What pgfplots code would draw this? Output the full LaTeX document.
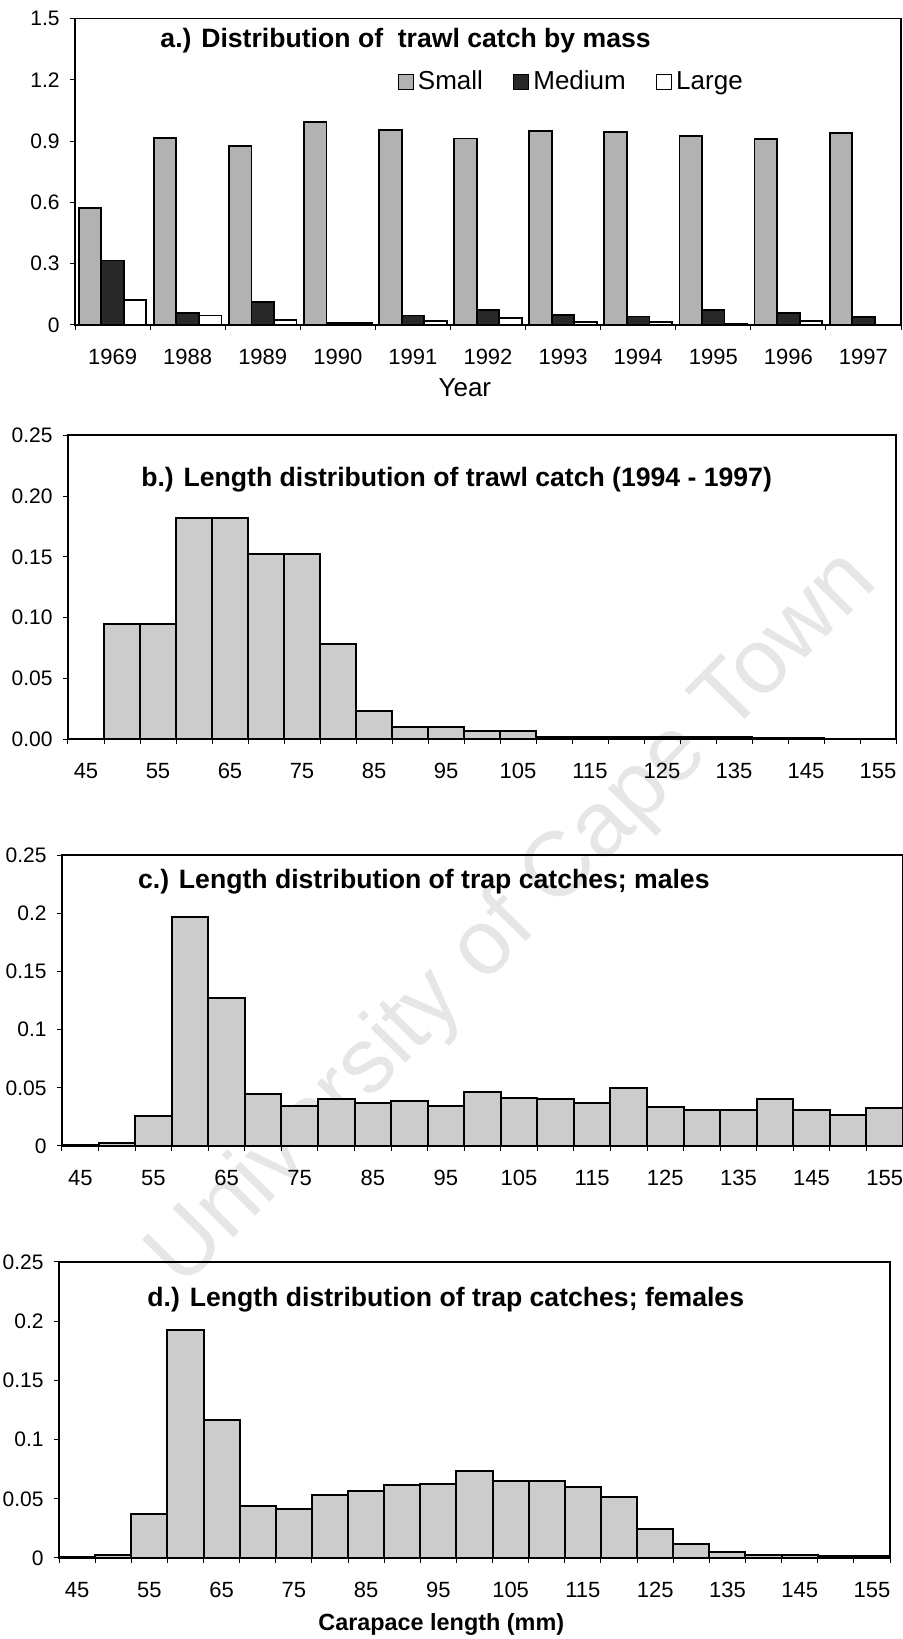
\documentclass[border=0pt]{standalone}
\usepackage{fontspec}
\setmainfont{Liberation Sans}
\usepackage{pgfplots}
\pgfplotsset{compat=1.18}
\definecolor{smallfill}{RGB}{178,178,178}
\definecolor{medfill}{RGB}{40,40,40}
\definecolor{histfill}{RGB}{204,204,204}
\definecolor{wmark}{RGB}{230,230,230}

\tikzset{ttl/.style={font=\fontsize{13.3}{15}\selectfont\bfseries, anchor=west, inner sep=0pt}}
\pgfplotsset{
  base/.style={
    scale only axis, clip=false, anchor=south west,
    axis line style={line width=0.8pt},
    tick align=outside,
    major tick length=0pt,
    minor tick length=2.5pt,
    tick style={line width=0.5pt, black},
    xtick pos=left, ytick pos=left,
    /pgf/number format/assume math mode=true,
    scaled y ticks=false,
    yticklabel style={font=\fontsize{10.5}{12}\selectfont, anchor=east, inner sep=0pt, xshift=-7.5pt},
    xticklabel style={font=\fontsize{11}{13}\selectfont, anchor=center, inner sep=0pt, yshift=-16pt},
    ymin=0,
  },
  hist/.style={base, ybar, bar width=5, xmin=42.5, xmax=157.5, ymax=0.25,
    xtick={45,55,65,75,85,95,105,115,125,135,145,155},
    xticklabels={45,55,65,75,85,95,105,115,125,135,145,155},
    minor xtick={42.5,47.5,...,157.5},
    ytick={0,0.05,0.1,0.15,0.2,0.25},
    minor ytick={0,0.05,0.1,0.15,0.2,0.25},
    yticklabels={0,0.05,0.1,0.15,0.2,0.25}},
  histbar/.style={fill=histfill, draw=black, line width=1pt},
}

\begin{document}
\begin{tikzpicture}
\path[use as bounding box] (0,0) rectangle (451.5pt,819.5pt);
\node[rotate=45.4, text=wmark, font=\fontsize{46}{50}\selectfont] at (257pt,359.5pt) {University of Cape Town};

% ---------------- panel a
\begin{axis}[base, at={(37.5pt,657pt)}, width=413pt, height=153.25pt,
  ybar=0pt, bar width=0.3,
  xmin=-0.5, xmax=10.5, ymax=1.5,
  xtick={0,1,2,3,4,5,6,7,8,9,10},
  xticklabels={1969,1988,1989,1990,1991,1992,1993,1994,1995,1996,1997},
  minor xtick={-0.5,0.5,...,10.5},
  ytick={0,0.3,0.6,0.9,1.2,1.5},
  minor ytick={0,0.3,0.6,0.9,1.2,1.5},
  yticklabels={0,0.3,0.6,0.9,1.2,1.5},
  every axis plot post/.append style={
    legend image code/.code={\draw[#1, line width=0.6pt] (0pt,-3.8pt) rectangle (7.6pt,3.8pt);}},
  legend style={draw=none, fill=none, inner sep=0pt, at={(rel axis cs:0.39,0.793)}, anchor=west,
    font=\fontsize{13}{15}\selectfont, legend columns=3,
    /tikz/every even column/.append style={column sep=13pt}},
  legend cell align=left,
]
\addplot[fill=smallfill, draw=black, line width=0.9pt] coordinates {
 (0,0.574) (1,0.915) (2,0.876) (3,0.993) (4,0.954) (5,0.913) (6,0.949) (7,0.944) (8,0.925) (9,0.910) (10,0.938)};
\addplot[fill=medfill, draw=black, line width=0.9pt] coordinates {
 (0,0.316) (1,0.059) (2,0.114) (3,0.010) (4,0.046) (5,0.072) (6,0.050) (7,0.042) (8,0.072) (9,0.060) (10,0.040)};
\addplot[fill=white, draw=black, line width=0.9pt] coordinates {
 (0,0.124) (1,0.046) (2,0.026) (3,0.008) (4,0.020) (5,0.036) (6,0.016) (7,0.013) (8,0.003) (9,0.018) (10,0.002)};
\legend{Small,Medium,Large}
\node[ttl] at (rel axis cs:0.103,0.927) {a.) Distribution of\ \ trawl catch by mass};
\node[font=\fontsize{13}{15}\selectfont] at (rel axis cs:0.472,-0.2055) {Year};
\end{axis}

% ---------------- panel b
\begin{axis}[hist, at={(34pt,449.85pt)}, width=414pt, height=152pt,
  yticklabels={0.00,0.05,0.10,0.15,0.20,0.25}]
\addplot[histbar] coordinates {
 (45,0) (50,0.095) (55,0.095) (60,0.182) (65,0.182) (70,0.152) (75,0.152) (80,0.078)
 (85,0.023) (90,0.0105) (95,0.0105) (100,0.0068) (105,0.0068) (110,0.0022) (115,0.0022)
 (120,0.002) (125,0.0018) (130,0.0018) (135,0.0015) (140,0.0012) (145,0.001) (150,0) (155,0)};
\node[ttl] at (rel axis cs:0.088,0.853) {b.) Length distribution of trawl catch (1994 - 1997)};
\end{axis}

% ---------------- panel c
\begin{axis}[hist, at={(31pt,246.5pt)}, width=420.5pt, height=145.5pt]
\addplot[histbar] coordinates {
 (45,0.001) (50,0.003) (55,0.026) (60,0.197) (65,0.127) (70,0.0444) (75,0.034) (80,0.0407)
 (85,0.0372) (90,0.0387) (95,0.0347) (100,0.046) (105,0.0412) (110,0.0404) (115,0.037)
 (120,0.0495) (125,0.0338) (130,0.031) (135,0.031) (140,0.0407) (145,0.031) (150,0.0266) (155,0.033)};
\node[ttl] at (rel axis cs:0.09,0.907) {c.) Length distribution of trap catches; males};
\end{axis}

% ---------------- panel d
\begin{axis}[hist, at={(29.5pt,40.5pt)}, width=415.5pt, height=148pt]
\addplot[histbar] coordinates {
 (45,0.0006) (50,0.0025) (55,0.037) (60,0.1924) (65,0.1166) (70,0.0441) (75,0.0413) (80,0.0528)
 (85,0.057) (90,0.0618) (95,0.0626) (100,0.0739) (105,0.0654) (110,0.0654) (115,0.0598)
 (120,0.0514) (125,0.0244) (130,0.0115) (135,0.005) (140,0.0028) (145,0.0022) (150,0.002) (155,0.002)};
\node[ttl] at (rel axis cs:0.106,0.872) {d.) Length distribution of trap catches; females};
\node[font=\fontsize{11.7}{14}\selectfont\bfseries] at (rel axis cs:0.46,-0.226) {Carapace length (mm)};
\end{axis}
\end{tikzpicture}
\end{document}
